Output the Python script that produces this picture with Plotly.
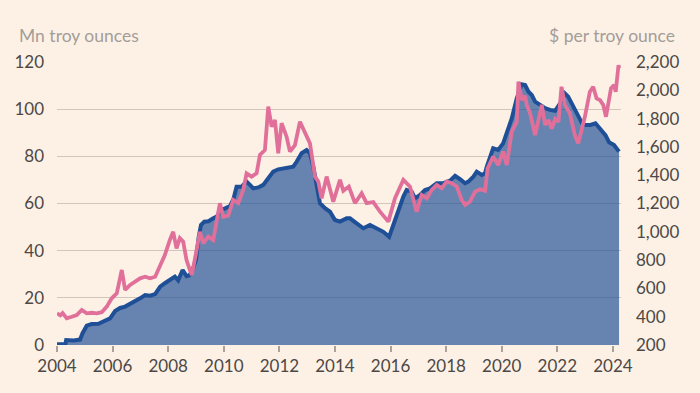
import plotly.graph_objects as go

# Gold ETF holdings (Mn troy ounces)
etf_years = [2004.00, 2004.30, 2004.33, 2004.60, 2004.83, 2004.92, 2005.07, 2005.25, 2005.49, 2005.73,
             2005.91, 2006.09, 2006.27, 2006.45, 2006.63, 2006.81, 2006.99, 2007.17, 2007.35, 2007.53,
             2007.71, 2007.88, 2008.06, 2008.24, 2008.36, 2008.52, 2008.66, 2008.75, 2008.85, 2009.00,
             2009.10, 2009.18, 2009.30, 2009.45, 2009.62, 2009.75, 2009.88, 2010.04, 2010.22, 2010.35,
             2010.46, 2010.64, 2010.82, 2010.95, 2011.06, 2011.24, 2011.42, 2011.60, 2011.78, 2011.96,
             2012.14, 2012.32, 2012.50, 2012.62, 2012.80, 2012.98, 2013.10, 2013.22, 2013.34, 2013.46,
             2013.64, 2013.82, 2014.00, 2014.18, 2014.42, 2014.54, 2014.78, 2015.02, 2015.26, 2015.50,
             2015.74, 2015.95, 2016.10, 2016.28, 2016.46, 2016.58, 2016.76, 2016.88, 2017.06, 2017.24,
             2017.42, 2017.66, 2017.90, 2018.14, 2018.32, 2018.50, 2018.68, 2018.80, 2018.98, 2019.10,
             2019.28, 2019.40, 2019.46, 2019.69, 2019.87, 2020.05, 2020.18, 2020.36, 2020.54, 2020.72,
             2020.84, 2020.96, 2021.08, 2021.20, 2021.38, 2021.56, 2021.74, 2021.92, 2022.10, 2022.27,
             2022.39, 2022.57, 2022.77, 2022.89, 2023.01, 2023.19, 2023.37, 2023.55, 2023.73, 2023.86,
             2024.04, 2024.22]
etf_holdings = [0.3, 0.3, 2.1, 1.9, 2.3, 5.0, 8.2, 8.9, 9.0, 10.2,
                11.3, 14.4, 15.7, 16.3, 17.4, 18.4, 19.8, 21.2, 20.9, 21.6,
                24.7, 26.2, 27.6, 29.0, 27.4, 31.8, 29.2, 29.5, 31.0, 36.0,
                46.0, 50.9, 52.3, 52.5, 53.7, 54.5, 57.0, 58.0, 58.9, 62.0,
                67.1, 67.1, 69.3, 67.8, 66.4, 66.8, 67.9, 70.7, 73.5, 74.5,
                74.9, 74.9, 75.6, 77.7, 81.3, 82.7, 81.3, 75.6, 68.6, 60.1,
                58.0, 56.5, 53.0, 52.3, 53.7, 53.7, 51.6, 49.5, 50.9, 49.5,
                48.0, 45.9, 50.9, 58.0, 62.9, 65.7, 65.0, 62.2, 63.6, 65.7,
                66.4, 68.6, 68.6, 69.7, 71.7, 70.3, 68.6, 69.3, 71.4, 73.5,
                72.1, 72.8, 75.6, 83.4, 82.7, 85.5, 89.7, 96.1, 104.6, 110.5,
                110.2, 107.4, 106.0, 103.2, 101.8, 100.4, 99.7, 99.3, 102.5, 106.7,
                105.3, 101.1, 96.8, 94.0, 93.3, 93.3, 94.0, 91.8, 89.0, 86.0,
                84.8, 82.0]

# Gold price ($ per troy ounce)
price_years = [2004.00, 2004.12, 2004.20, 2004.35, 2004.53, 2004.71, 2004.89, 2005.07, 2005.25, 2005.43,
               2005.61, 2005.79, 2005.97, 2006.15, 2006.33, 2006.45, 2006.63, 2006.81, 2006.99, 2007.17,
               2007.35, 2007.53, 2007.71, 2007.88, 2008.06, 2008.18, 2008.30, 2008.42, 2008.54, 2008.66,
               2008.78, 2008.85, 2009.00, 2009.14, 2009.26, 2009.44, 2009.62, 2009.86, 2009.98, 2010.16,
               2010.34, 2010.52, 2010.70, 2010.82, 2011.00, 2011.18, 2011.30, 2011.48, 2011.60, 2011.72,
               2011.84, 2011.96, 2012.08, 2012.26, 2012.38, 2012.56, 2012.74, 2012.92, 2013.10, 2013.28,
               2013.40, 2013.52, 2013.70, 2013.94, 2014.18, 2014.30, 2014.50, 2014.72, 2014.96, 2015.14,
               2015.38, 2015.62, 2015.92, 2016.16, 2016.46, 2016.70, 2016.94, 2017.12, 2017.30, 2017.48,
               2017.66, 2017.84, 2018.02, 2018.20, 2018.38, 2018.56, 2018.68, 2018.86, 2019.04, 2019.22,
               2019.40, 2019.49, 2019.69, 2019.87, 2020.05, 2020.18, 2020.36, 2020.54, 2020.60, 2020.72,
               2020.84, 2020.90, 2021.02, 2021.20, 2021.32, 2021.44, 2021.56, 2021.68, 2021.80, 2021.92,
               2022.04, 2022.15, 2022.27, 2022.45, 2022.63, 2022.75, 2022.87, 2022.99, 2023.17, 2023.29,
               2023.41, 2023.53, 2023.65, 2023.75, 2023.93, 2024.04, 2024.10, 2024.20, 2024.22]
gold_price = [424, 410, 425, 389, 400, 412, 448, 424, 428, 424,
              432, 471, 530, 565, 730, 589, 624, 648, 671, 682,
              671, 682, 765, 836, 942, 1000, 883, 955, 931, 800,
              730, 695, 848, 1000, 919, 966, 942, 1202, 1107, 1114,
              1225, 1202, 1296, 1413, 1390, 1413, 1543, 1578, 1885, 1743,
              1790, 1555, 1767, 1672, 1567, 1613, 1778, 1708, 1625, 1390,
              1355, 1237, 1390, 1213, 1367, 1290, 1320, 1202, 1272, 1202,
              1210, 1142, 1072, 1237, 1367, 1319, 1142, 1260, 1237, 1296,
              1331, 1308, 1355, 1343, 1320, 1225, 1190, 1213, 1283, 1300,
              1290, 1448, 1532, 1472, 1567, 1472, 1708, 1778, 2061, 1932,
              1960, 1897, 1838, 1683, 1778, 1897, 1755, 1790, 1730, 1797,
              1778, 2025, 1897, 1838, 1683, 1625, 1717, 1813, 1990, 2025,
              1943, 1932, 1897, 1813, 2013, 2037, 1990, 2178, 2155]

x_ticks = [2004, 2006, 2008, 2010, 2012, 2014, 2016, 2018, 2020, 2022, 2024]
left_ticks = [0, 20, 40, 60, 80, 100, 120]
right_ticks = [200, 400, 600, 800, 1000, 1200, 1400, 1600, 1800, 2000, 2200]

BG = "#FDF1E6"
FONT = "Lato"
TICK_COLOR = "#4d4845"
TITLE_COLOR = "#a39d98"

fig = go.Figure()
fig.add_trace(go.Scatter(x=etf_years, y=etf_holdings, mode="lines", fill="tozeroy",
                         fillcolor="rgba(31,79,150,0.68)", line=dict(width=0),
                         hoverinfo="skip", showlegend=False))
fig.add_trace(go.Scatter(x=etf_years, y=etf_holdings, mode="lines",
                         line=dict(color="#1f4f96", width=4), showlegend=False))
fig.add_trace(go.Scatter(x=price_years, y=gold_price, mode="lines", yaxis="y2",
                         line=dict(color="#e0709a", width=3.8), showlegend=False))

fig.update_layout(
    width=700, height=393,
    margin=dict(l=57, r=79, t=62, b=48),
    paper_bgcolor=BG, plot_bgcolor=BG,
    font=dict(family=FONT, size=17, color=TICK_COLOR),
    xaxis=dict(range=[2004, 2024.29], tickvals=x_ticks, ticktext=[str(t) for t in x_ticks],
               showgrid=False, zeroline=False, showline=False,
               ticks="outside", ticklen=6, tickwidth=1.5, tickcolor="#aaa29b",
               tickfont=dict(size=17, color=TICK_COLOR)),
    yaxis=dict(range=[0, 120], tickvals=left_ticks, showgrid=True, gridcolor="#d1c6bc",
               gridwidth=1.2, zeroline=False, showline=False, ticks="",
               ticklabelstandoff=12, tickfont=dict(size=17, color=TICK_COLOR)),
    yaxis2=dict(range=[200, 2200], tickvals=right_ticks,
                ticktext=[f"{t:,}" for t in right_ticks], overlaying="y", side="right",
                showgrid=False, zeroline=False, showline=False, ticks="",
                ticklabelstandoff=14, tickfont=dict(size=17, color=TICK_COLOR)),
    annotations=[
        dict(text="Mn troy ounces", xref="paper", yref="paper", x=(17 - 57) / 564, y=1 + (62 - 35) / 283,
             xanchor="left", yanchor="middle", showarrow=False,
             font=dict(family=FONT, size=17.5, color=TITLE_COLOR)),
        dict(text="$ per troy ounce", xref="paper", yref="paper", x=(677 - 57) / 564, y=1 + (62 - 35) / 283,
             xanchor="right", yanchor="middle", showarrow=False,
             font=dict(family=FONT, size=17.5, color=TITLE_COLOR)),
    ],
)

fig.write_html("out.html",
               config={"displayModeBar": False},
               post_script="document.body.style.margin='0';document.body.style.overflow='hidden';"
                           "document.body.style.background='" + BG + "';")
